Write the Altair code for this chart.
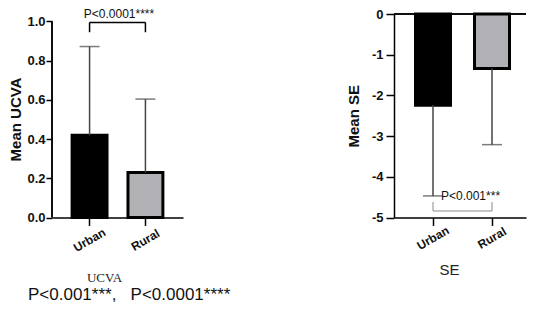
import altair as alt
import pandas as pd

# ---- data ----
groups = ["Urban", "Rural"]
ucva_mean = [0.42, 0.23]
ucva_upper = [0.872, 0.604]
se_mean = [-2.24, -1.34]
se_lower = [-4.47, -3.21]
bar_fills = ["#000000", "#b1b0b5"]
ucva_ticks = [0.0, 0.2, 0.4, 0.6, 0.8, 1.0]
se_ticks = [0, -1, -2, -3, -4, -5]

ucva_p = "P<0.0001****"
se_p = "P<0.001***"
footer = "P<0.001***,\u00a0\u00a0\u00a0P<0.0001****"

ucva = pd.DataFrame({"group": groups, "mean": ucva_mean, "err": ucva_upper})
se = pd.DataFrame({"group": groups, "mean": se_mean, "err": se_lower})

FONT = "Liberation Sans"
ERR = "#444444"
XS = alt.X("group:N", sort=groups)
H = 203.5


def xenc(pi, po, align, title, tx, ty, tfont, tsize, pad):
    return alt.X(
        "group:N", sort=groups,
        scale=alt.Scale(paddingInner=pi, paddingOuter=po, align=align),
        axis=alt.Axis(
            title=title, labelAngle=-30, labelAlign="center", labelBaseline="middle",
            labelFont=FONT, labelFontWeight="bold", labelFontSize=12, labelColor="#111",
            labelPadding=pad, tickSize=8, tickColor="#000", tickWidth=1.5,
            domainColor="#000", domainWidth=1.5,
            titleX=tx, titleY=ty, titleAlign="center", titleBaseline="middle",
            titleFont=tfont, titleFontSize=tsize, titleFontWeight="normal", titleColor="#222",
        ),
    )


color = alt.Color("group:N", scale=alt.Scale(domain=groups, range=bar_fills), legend=None)

# ---------------- left panel: UCVA ----------------
xl = xenc(0.375, 0.36, 0.5, "UCVA", 52, 60, "Liberation Serif", 13, 14)
yl = alt.Y(
    "mean:Q", scale=alt.Scale(domain=[0, 1.038], nice=False),
    axis=alt.Axis(
        title="Mean UCVA", values=ucva_ticks, format=".1f", domain=False, grid=False,
        labelFont=FONT, labelFontWeight="bold", labelFontSize=13, labelColor="#111", labelPadding=1,
        tickSize=6, tickWidth=1.5, tickColor="#000",
        titleFont=FONT, titleFontSize=15, titleFontWeight="bold", titleColor="#111",
        titlePadding=3, titleY=105,
    ),
)
bl = alt.Chart(ucva)
l_bars = bl.mark_bar(stroke="black", strokeWidth=3).encode(x=xl, y=yl, color=color)
l_err = bl.mark_rule(color=ERR, strokeWidth=1.5).encode(x=XS, y="mean:Q", y2="err:Q")
l_cap = bl.mark_tick(color=ERR, thickness=1.5, size=20).encode(x=XS, y=alt.Y("err:Q", title="Mean UCVA"))
l_dom = bl.mark_rule(color="black", strokeWidth=1.5).encode(
    x=alt.value(0), y=alt.datum(0), y2=alt.datum(1.0))
l_br = bl.mark_line(color="black", strokeWidth=1.5).encode(x=XS, y=alt.datum(0.995))
l_brt = bl.mark_rule(color="black", strokeWidth=1.5).encode(
    x=XS, y=alt.datum(0.995), y2=alt.datum(0.945))
l_txt = alt.Chart(pd.DataFrame({"t": [ucva_p]})).mark_text(
    font=FONT, fontSize=12, align="center", baseline="alphabetic", color="#111"
).encode(text="t:N", x=alt.value(67), y=alt.value(4))
l_foot = alt.Chart(pd.DataFrame({"t": [footer]})).mark_text(
    font=FONT, fontSize=17, align="left", baseline="middle", color="#111"
).encode(text="t:N", x=alt.value(-24), y=alt.value(281))

left = alt.layer(l_bars, l_err, l_cap, l_dom, l_br, l_brt, l_txt, l_foot).properties(width=131, height=H)

# ---------------- right panel: SE ----------------
xr = xenc(0.407, 0.322, 0.566, "SE", 55, 52, FONT, 15, 12)
yr = alt.Y(
    "mean:Q", scale=alt.Scale(domain=[-5, 0], nice=False),
    axis=alt.Axis(
        title="Mean SE", values=se_ticks, labelExpr="'' + datum.value", grid=False,
        domainColor="#000", domainWidth=1.5,
        labelFont=FONT, labelFontWeight="bold", labelFontSize=13, labelColor="#111", labelPadding=3,
        tickSize=8, tickWidth=1.5, tickColor="#000",
        titleFont=FONT, titleFontSize=15, titleFontWeight="bold", titleColor="#111",
        titlePadding=10,
    ),
)
br = alt.Chart(se)
r_bars = br.mark_bar(stroke="black", strokeWidth=3).encode(x=xr, y=yr, color=color)
r_zero = br.mark_rule(color="black", strokeWidth=1.5).encode(y=alt.datum(0))
r_err = br.mark_rule(color=ERR, strokeWidth=1.5).encode(x=XS, y="mean:Q", y2="err:Q")
r_cap = br.mark_tick(color=ERR, thickness=1.5, size=20).encode(x=XS, y=alt.Y("err:Q", title="Mean SE"))
r_br = br.mark_line(color="#8a8a8a", strokeWidth=1).encode(x=XS, y=alt.datum(-4.84))
r_brt = br.mark_rule(color="#8a8a8a", strokeWidth=1).encode(
    x=XS, y=alt.datum(-4.84), y2=alt.datum(-4.62))
r_txt = alt.Chart(pd.DataFrame({"t": [se_p]})).mark_text(
    font=FONT, fontSize=12, align="left", baseline="middle", color="#111"
).encode(text="t:N", x=alt.value(47), y=alt.value(182))

right = alt.layer(r_bars, r_zero, r_err, r_cap, r_br, r_brt, r_txt).properties(width=132, height=H)

chart = alt.hconcat(left, right, spacing=211, bounds="flush").properties(
    padding=0
).configure_view(stroke=None)

chart.save("out.html", embed_options={"renderer": "svg", "actions": False})
